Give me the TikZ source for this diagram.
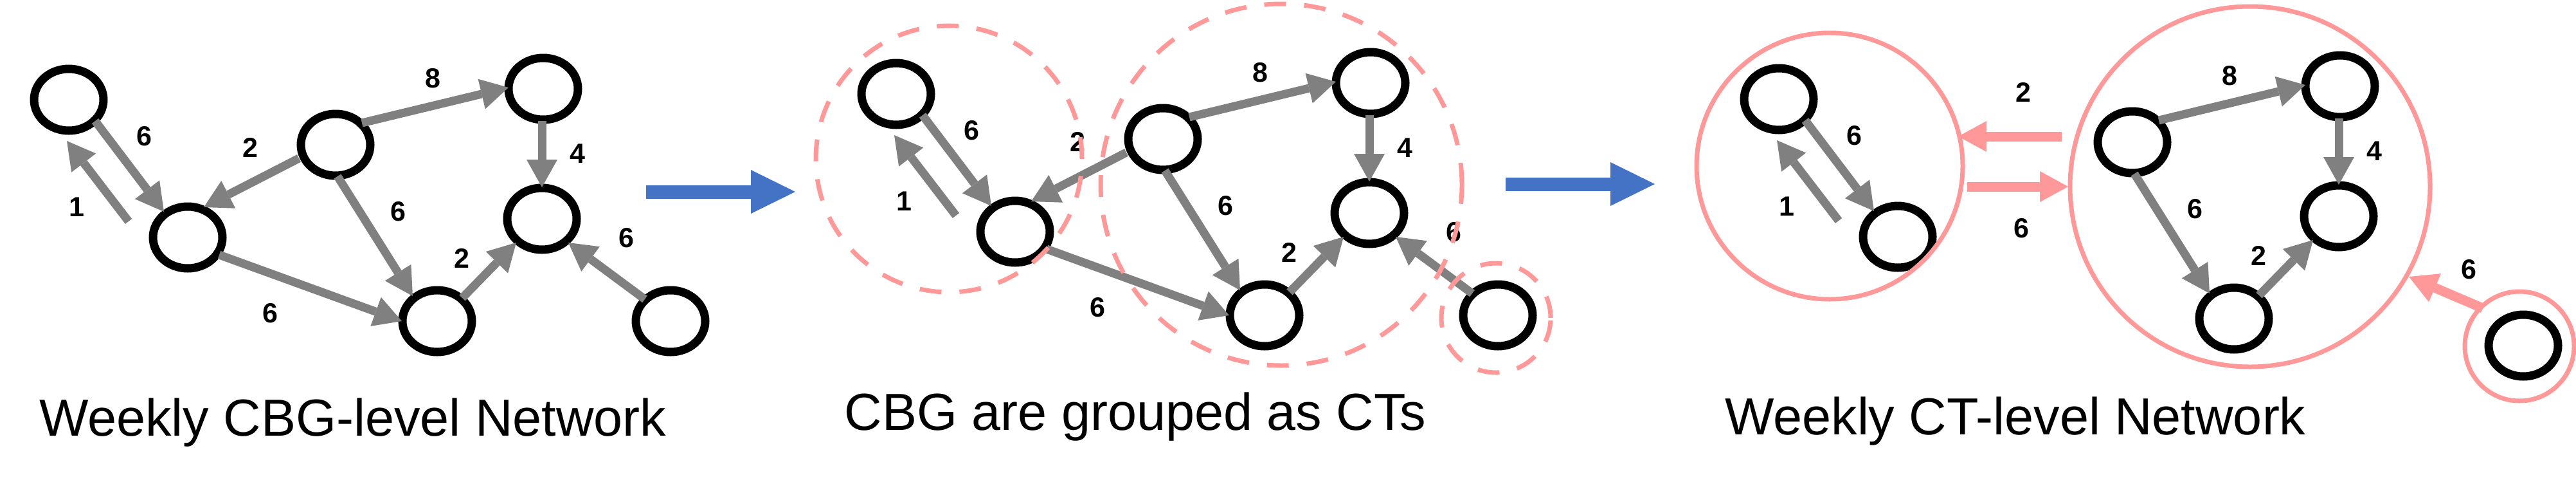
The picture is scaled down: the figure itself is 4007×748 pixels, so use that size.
\documentclass[tikz,border=0pt]{standalone}
\usepackage{fontspec}
\setmainfont{Liberation Sans}
\usetikzlibrary{arrows.meta,calc,shapes.geometric}
\definecolor{edgegray}{RGB}{128,128,128}
\definecolor{ctpink}{RGB}{255,153,153}
\definecolor{flowblue}{RGB}{68,114,196}
\tikzset{
  cbg/.style={ellipse, draw=black, line width=13pt, minimum width=108pt, minimum height=96pt, inner sep=0pt},
  gedge/.style={draw=edgegray, line width=13pt, -{Triangle[width=48pt,length=43pt,line width=0pt]}},
  lbl/.style={font=\fontsize{43}{50}\selectfont\bfseries, inner sep=0pt},
  ttl/.style={font=\fontsize{81}{97}\selectfont, anchor=base, inner sep=0pt},
  ctdash/.style={circle, draw=ctpink, line width=7pt, dash pattern=on 34pt off 28pt, inner sep=0pt},
  ctsolid/.style={circle, draw=ctpink, line width=7pt, inner sep=0pt},
  ctarrow/.style={draw=ctpink, line width=15pt, -{Triangle[width=48pt,length=44pt,line width=0pt]}},
  flow/.style={draw=flowblue, line width=21pt, -{Triangle[width=68pt,length=69pt,line width=0pt]}}
}
% left pair: nodes 1,2
\newcommand\grpL[3]{%
  \node[cbg] (#11) at ({107+(#2)},{155+(#3)}) {};
  \node[cbg] (#12) at ({292+(#2)},{369+(#3)}) {};
  \draw[gedge] ($(#11)+(41,33)$) -- ($(#12)+(-37,-40)$);
  \draw[gedge] ($(#12)+(-92,-25)$) -- ($(#11)+(-3,64)$);
  \node[lbl] at ({224+(#2)},{212+(#3)}) {6};
  \node[lbl] at ({119+(#2)},{322+(#3)}) {1};
}
% right group: nodes 3,4,5,6
\newcommand\grpR[3]{%
  \node[cbg] (#13) at ({522+(#2)},{225+(#3)}) {};
  \node[cbg] (#14) at ({680+(#2)},{499+(#3)}) {};
  \node[cbg] (#15) at ({845+(#2)},{138+(#3)}) {};
  \node[cbg] (#16) at ({843+(#2)},{340+(#3)}) {};
  \draw[gedge] ($(#13)+(41,-34)$) -- ($(#15)+(-54,-2)$);
  \draw[gedge] ($(#13)+(3,49)$) -- ($(#14)+(-38,-39)$);
  \draw[gedge] ($(#15)+(-2,50)$) -- ($(#16)+(0,-49)$);
  \draw[gedge] ($(#14)+(39,-36)$) -- ($(#16)+(-40,37)$);
  \node[lbl] at ({673+(#2)},{122+(#3)}) {8};
  \node[lbl] at ({619+(#2)},{329+(#3)}) {6};
  \node[lbl] at ({898+(#2)},{239+(#3)}) {4};
  \node[lbl] at ({718+(#2)},{401+(#3)}) {2};
}
% cross edges and node 7
\newcommand\grpX[3]{%
  \node[cbg] (#17) at ({1043+(#2)},{499+(#3)}) {};
  \draw[gedge] ($(#13)+(-57,21)$) -- ($(#12)+(25,-47)$);
  \draw[gedge] ($(#12)+(49,27)$) -- ($(#14)+(-55,0)$);
  \draw[gedge] ($(#17)+(-40,-34)$) -- ($(#16)+(41,37)$);
  \node[lbl] at ({389+(#2)},{229+(#3)}) {2};
  \node[lbl] at ({420+(#2)},{487+(#3)}) {6};
  \node[lbl] at ({974+(#2)},{370+(#3)}) {6};
}
\begin{document}
\begin{tikzpicture}[x=1pt,y=-1pt]
\useasboundingbox (0,0) rectangle (4007,748);
\fill[white] (0,0) rectangle (4007,748);

% ---------- panel 1 ----------
\grpL{a}{0}{0}
\grpR{a}{0}{0}
\grpX{a}{0}{0}
\node[ttl] (t1) at (549,677) {Weekly CBG-level Network};

\coordinate (f1s) at (1005,298);
\coordinate (f1e) at (1237,298);
\draw[flow] (f1s) -- (f1e);

% ---------- panel 2 ----------
\grpL{b}{1287}{-9}
\grpR{b}{1287}{-9}
\grpX{b}{1287}{-9}
\node[ctdash, minimum size=414pt] (gA) at (1476,247) {};
\node[ctdash, minimum size=562pt] (gB) at (1993,287) {};
\node[ctdash, minimum size=170pt] (gC) at (2327,494) {};
\node[ttl] (t2) at (1766,668) {CBG are grouped as CTs};

\coordinate (f2s) at (2342,286);
\coordinate (f2e) at (2574,286);
\draw[flow] (f2s) -- (f2e);

% ---------- panel 3 ----------
\grpL{c}{2660}{-1}
\grpR{c}{2795}{-4}
\node[cbg] (c7) at (3925,537) {};
\node[ctsolid, minimum size=414pt] (gD) at (2846,258) {};
\node[ctsolid, minimum size=560pt] (gE) at (3500,290) {};
\node[ctsolid, minimum size=170pt] (gF) at (3919,538) {};
\draw[ctarrow] ($(gE.center)+(-293,-78)$) -- ($(gD.center)+(200,-46)$);
\draw[ctarrow] ($(gD.center)+(214,32)$) -- ($(gE.center)+(-283,0)$);
\draw[ctarrow] ($(gF.center)+(-57,-59)$) -- ($(gE.center)+(247,140)$);
\node[lbl] at (3147,143) {2};
\node[lbl] at (3144,355) {6};
\node[lbl] at (3840,419) {6};
\node[ttl] (t3) at (3135,675) {Weekly CT-level Network};
\end{tikzpicture}
\end{document}
